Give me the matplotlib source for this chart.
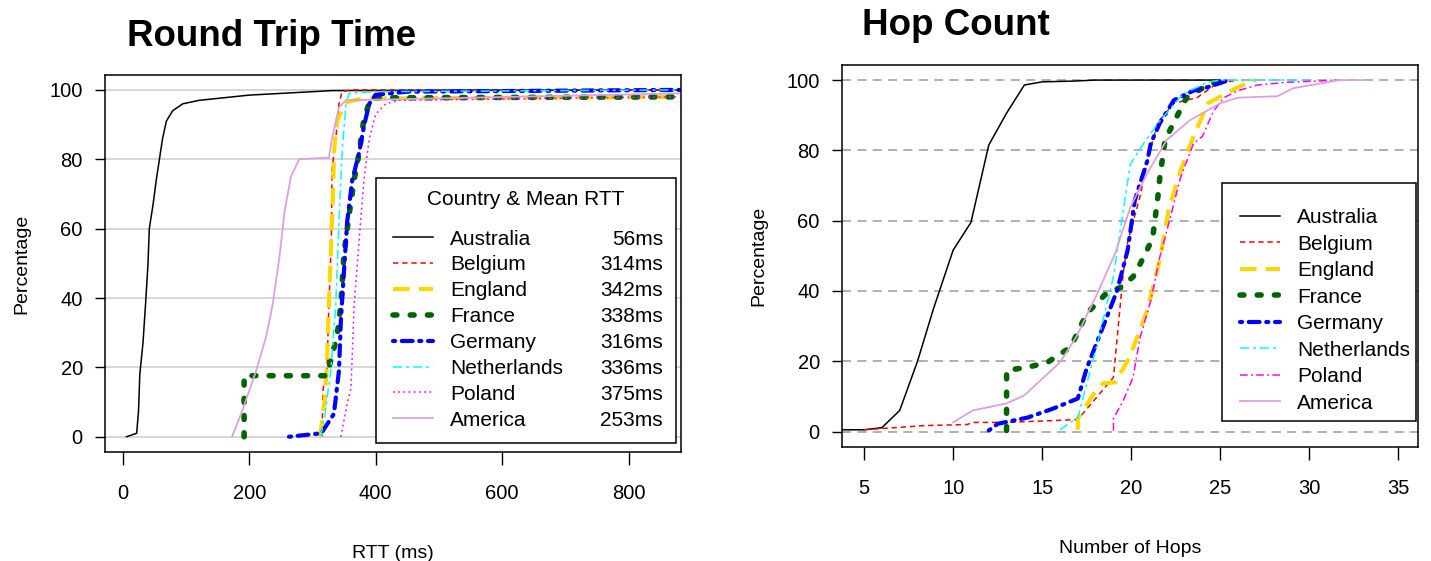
import matplotlib
matplotlib.use("Agg")
import matplotlib.pyplot as plt
from matplotlib.patches import Rectangle

# ---- data: RTT CDFs (ms, percentage) ----
countries = ["Australia", "Belgium", "England", "France", "Germany",
             "Netherlands", "Poland", "America"]
mean_rtt = ["56ms", "314ms", "342ms", "338ms", "316ms", "336ms", "375ms", "253ms"]

aus_rtt = [6, 22, 25, 27, 32, 36, 40, 42, 48, 53, 58, 63, 69, 79, 95, 121, 200, 331, 880]
aus_rpct = [0, 1, 7.5, 18, 27, 38, 50, 60, 67, 74, 80, 86, 91, 94, 96, 97, 98.5, 99.8, 100]
bel_rtt = [315, 317, 323, 326, 330, 331, 337, 342, 347, 360, 880]
bel_rpct = [0, 14, 19, 38, 57, 77, 86, 96, 99.5, 100, 100]
eng_rtt = [312, 319, 323, 326, 330, 333, 334, 339, 353, 380, 880]
eng_rpct = [0, 9.5, 21, 38, 57, 72, 82, 91, 96.5, 97.5, 98]
fra_rtt = [192, 192, 323, 329, 339, 345, 350, 358, 366, 374, 381, 392, 880]
fra_rpct = [0, 17.6, 17.6, 22, 29, 38, 53, 64, 74, 82, 91, 97.7, 98]
ger_rtt = [263, 314, 334, 342, 345, 350, 355, 363, 374, 382, 390, 400, 450, 880]
ger_rpct = [0, 1, 6.6, 19, 33.5, 48, 62, 74, 82, 90, 96, 98.6, 99.5, 100]
ned_rtt = [313, 320, 329, 337, 342, 347, 353, 358, 400, 880]
ned_rpct = [0, 6.6, 19, 38, 62, 82, 96, 99, 99.5, 100]
pol_rtt = [345, 355, 361, 366, 374, 382, 390, 400, 416, 437, 880]
pol_rpct = [0, 9.5, 14, 38, 57, 75, 86, 93, 96, 97, 98]
ame_rtt = [173, 189, 211, 227, 237, 248, 256, 266, 279, 326, 331, 342, 353, 880]
ame_rpct = [0, 7.5, 19, 29, 38, 52, 65, 75, 80, 80.5, 86, 95, 97, 99]

# ---- data: hop count CDFs (hops, percentage) ----
aus_hop = [3.7, 5, 6, 7, 8, 8.9, 10, 11, 12, 13, 14, 15, 16.7, 18, 25]
aus_hpct = [0.5, 0.5, 1.1, 6, 20, 35, 51.6, 59.5, 81.5, 90.6, 98.6, 99.5, 99.7, 100, 100]
bel_hop = [5, 8.4, 10.8, 11.1, 13, 17, 19, 19.55, 19.8, 20.5, 20.9, 21.5, 22.4, 23.7, 24.8, 26]
bel_hpct = [0.5, 1.7, 2, 2.6, 2.6, 3.4, 15.4, 45, 54, 67, 77, 88, 93.4, 95, 99, 100]
eng_hop = [17, 17, 17.9, 18.4, 19.1, 19.9, 20.9, 21.6, 22.1, 22.75, 23.5, 24.3, 26, 27]
eng_hpct = [0.5, 3.7, 10.8, 13.7, 14, 21, 34.5, 48.7, 63, 74, 84, 93.4, 98, 100]
fra_hop = [13, 13, 14.2, 15.3, 16.6, 17.5, 18.6, 19.4, 20.1, 20.7, 21.2, 21.35, 21.5,
           21.6, 21.9, 22.5, 23.1, 24.3, 25.2]
fra_hpct = [0.3, 17.4, 18.3, 19.7, 24, 33.6, 39.3, 41, 44, 49.6, 55, 61, 67, 72, 83, 89,
            95, 98.6, 100]
ger_hop = [12, 12.5, 14.2, 15.6, 17, 17.5, 18.4, 19.2, 19.8, 20.2, 20.9, 21.1, 21.6, 22.4,
           23.5, 24.3, 25.5]
ger_hpct = [0.3, 2.2, 4, 6.5, 9.4, 18, 29.6, 40, 51.6, 65.8, 77, 82, 87.7, 94.3, 97, 98, 100]
ned_hop = [16, 17, 18.1, 19, 19.55, 19.95, 20.7, 21.5, 22.9, 24.3, 25, 30]
ned_hpct = [0.5, 4, 25, 44, 63, 76, 82, 87.7, 96, 99.4, 100, 100]
pol_hop = [19, 19, 19.55, 20.1, 20.5, 21.1, 21.6, 22.2, 22.75, 23.5, 24, 24.6, 25.2, 26,
           27.1, 28.8, 30.4, 31.5]
pol_hpct = [0.3, 3.7, 8.8, 15.4, 26.8, 37.3, 49.6, 61, 72, 82, 84, 91, 95, 97, 98.6, 99.4,
            99.7, 100]
ame_hop = [10, 11.1, 13, 14, 15, 16, 16.9, 18.1, 19.1, 19.95, 20.9, 22, 23.3, 25, 26, 28.2,
           29.1, 31.7, 33]
ame_hpct = [2.6, 6, 8, 10.3, 15, 19.7, 26.8, 39.3, 50.7, 63.8, 73.5, 83, 88.6, 93.4, 95,
            95.4, 97.7, 100, 100]

rtt_x = [aus_rtt, bel_rtt, eng_rtt, fra_rtt, ger_rtt, ned_rtt, pol_rtt, ame_rtt]
rtt_y = [aus_rpct, bel_rpct, eng_rpct, fra_rpct, ger_rpct, ned_rpct, pol_rpct, ame_rpct]
hop_x = [aus_hop, bel_hop, eng_hop, fra_hop, ger_hop, ned_hop, pol_hop, ame_hop]
hop_y = [aus_hpct, bel_hpct, eng_hpct, fra_hpct, ger_hpct, ned_hpct, pol_hpct, ame_hpct]

# line styles (R-like lty / lwd)
styles = [
    dict(color="black", lw=1.1, ls="-"),
    dict(color="red", lw=1.1, ls=(0, (3.5, 2.5))),
    dict(color="#FFD700", lw=3, ls=(0, (4, 2.2))),
    dict(color="#006400", lw=4, ls=(0, (0.7, 2.4)), dash_capstyle="round"),
    dict(color="blue", lw=3, ls=(0, (0.5, 1.6, 2.6, 1.6)), dash_capstyle="round"),
    dict(color="cyan", lw=1.1, ls=(0, (6, 2.5, 2, 2.5))),
    dict(color="magenta", lw=1.1, ls=(0, (1.2, 2.2))),
    dict(color="#DDA0DD", lw=1.3, ls="-"),
]
styles_hop = [dict(s) for s in styles]
styles_hop[6]["ls"] = (0, (5, 2.2, 1.2, 2.2))

plt.rcParams["font.family"] = ["Liberation Sans", "DejaVu Sans"]

W, H = 1431, 561


def px(x, y):
    # pixel position (from top-left) -> figure fraction
    return x / W, 1 - y / H


fig = plt.figure(figsize=(W / 100, H / 100), dpi=100)
ax1 = fig.add_axes([0.0734, 0.1943, 0.4025, 0.672])
ax2 = fig.add_axes([0.5884, 0.2032, 0.4025, 0.681])

for ax in (ax1, ax2):
    for sp in ax.spines.values():
        sp.set_linewidth(1.1)
    ax.set_ylim(-4.4, 104.3)
    ax.set_yticks([0, 20, 40, 60, 80, 100])
    ax.tick_params(axis="x", length=9, width=1, pad=14, labelsize=14.5)
    ax.tick_params(axis="y", length=7, width=1, pad=9, labelsize=14.5)

# --- left: RTT ---
for v in [0, 20, 40, 60, 80, 100]:
    ax1.axhline(v, color="#d3d3d3", lw=1.3, zorder=0)
lines1 = []
for xs, ys, st in zip(rtt_x, rtt_y, styles):
    ln, = ax1.plot(xs, ys, **st)
    lines1.append(ln)
ax1.set_xlim(-28, 883)
ax1.set_xticks([0, 200, 400, 600, 800])
ax1.set_xlabel("RTT (ms)", fontsize=14, labelpad=30)
ax1.set_ylabel("Percentage", fontsize=14, labelpad=14)

# --- right: hop count ---
for v in [0, 20, 40, 60, 80, 100]:
    ax2.axhline(v, color="#a9a9a9", lw=1.3, ls=(0, (5, 3.5)), zorder=0)
lines2 = []
for xs, ys, st in zip(hop_x, hop_y, styles_hop):
    ln, = ax2.plot(xs, ys, **st)
    lines2.append(ln)
ax2.set_xlim(3.76, 36.1)
ax2.set_xticks([5, 10, 15, 20, 25, 30, 35])
ax2.set_xlabel("Number of Hops", fontsize=14, labelpad=30)
ax2.set_ylabel("Percentage", fontsize=14, labelpad=14)

# legend boxes (R style: square box, title inside)
x0, y0 = px(376, 443)
x1, y1 = px(676, 178)
fig.add_artist(Rectangle((x0, y0), x1 - x0, y1 - y0, transform=fig.transFigure,
                         facecolor="white", edgecolor="black", lw=1.1, zorder=3))
x0, y0 = px(1222, 421)
x1, y1 = px(1416, 183)
fig.add_artist(Rectangle((x0, y0), x1 - x0, y1 - y0, transform=fig.transFigure,
                         facecolor="white", edgecolor="black", lw=1.1, zorder=3))

leg_kw = dict(loc="upper left", fontsize=15, frameon=False, handlelength=1.9,
              handletextpad=0.85, borderpad=0, borderaxespad=0,
              bbox_transform=fig.transFigure)
leg1 = fig.legend(lines1, countries, bbox_to_anchor=px(393, 229.5), labelspacing=0.33,
                  **leg_kw)
leg1.set_zorder(4)
leg2 = fig.legend(lines2, countries, bbox_to_anchor=px(1240, 208), labelspacing=0.36,
                  **leg_kw)
leg2.set_zorder(4)

fig.text(*px(526, 200), "Country & Mean RTT", ha="center", va="center", fontsize=15,
         zorder=5)

fig.text(*px(272, 46), "Round Trip Time", ha="center", va="baseline",
         fontsize=26.5, fontweight="bold")
fig.text(*px(956, 35), "Hop Count", ha="center", va="baseline",
         fontsize=26.5, fontweight="bold")

# mean RTT values, right-aligned in the legend rows
fig.canvas.draw()
inv = fig.transFigure.inverted()
for txt, val in zip(leg1.get_texts(), mean_rtt):
    bb = txt.get_window_extent()
    ymid = inv.transform((0, (bb.y0 + bb.y1) / 2))[1]
    fig.text(663 / W, ymid, val, ha="right", va="center", fontsize=15, zorder=5)

fig.savefig("out.png", dpi=100)
